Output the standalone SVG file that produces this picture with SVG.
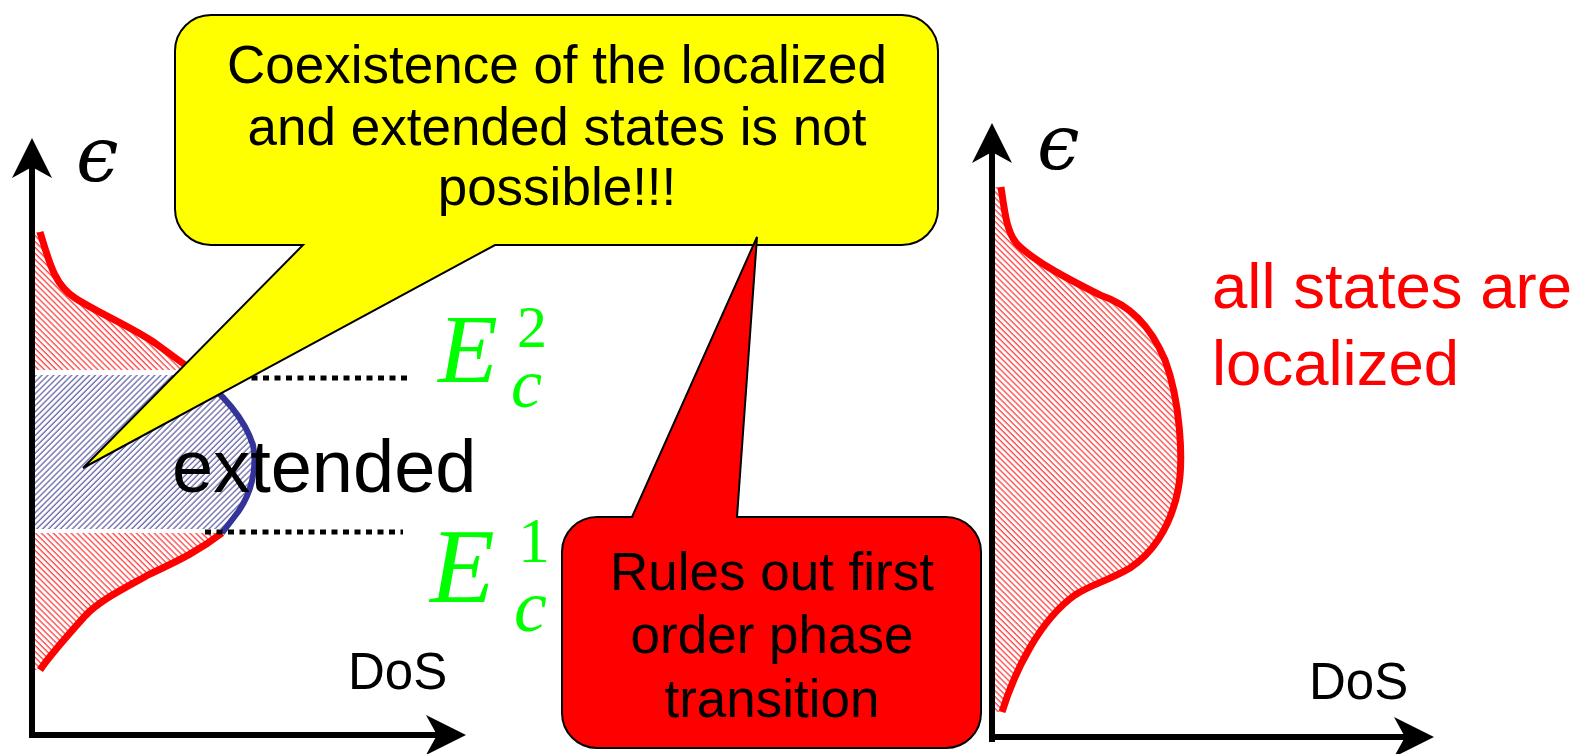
<svg xmlns="http://www.w3.org/2000/svg" width="1581" height="754" viewBox="0 0 1581 754">
<style>
.sans{font-family:"Liberation Sans",Arial,sans-serif}
.math{font-family:"Liberation Serif","Times New Roman",serif;fill:#00ff00}
.axis{stroke:#000;stroke-width:6;fill:none;marker-end:url(#arrow)}
.redc{stroke:#ff0000;stroke-width:7;fill:none;stroke-linejoin:round}
.bluec{stroke:#333399;stroke-width:6;fill:none;stroke-linejoin:round}
.dots{stroke:#000;stroke-width:5;stroke-dasharray:6 5.5;fill:none}
.callout{stroke:#000;stroke-width:2;stroke-linejoin:miter}
.eps{font-family:"DejaVu Serif",serif;font-style:italic;font-size:76px;fill:#000}
</style>
<defs>
<marker id="arrow" viewBox="0 0 40 40" refX="11" refY="20" markerWidth="40" markerHeight="40" markerUnits="userSpaceOnUse" orient="auto">
<path d="M0,0 L40,20 L0,40 L11,20 Z" fill="#000"/>
</marker>
<pattern id="hatchRed" patternUnits="userSpaceOnUse" width="4.2" height="4.2" patternTransform="rotate(-45)">
<rect width="4.2" height="4.2" fill="#fff"/>
<line x1="1" y1="-1" x2="1" y2="5.2" stroke="#ff4040" stroke-width="1.3"/>
</pattern>
<pattern id="hatchBlue" patternUnits="userSpaceOnUse" width="4.2" height="4.2" patternTransform="rotate(45)">
<rect width="4.2" height="4.2" fill="#fff"/>
<line x1="1" y1="-1" x2="1" y2="5.2" stroke="#6666a8" stroke-width="1.3"/>
</pattern>
<clipPath id="bandTop"><rect x="0" y="200" width="400" height="170"/></clipPath>
<clipPath id="bandMid"><rect x="0" y="375" width="400" height="154"/></clipPath>
<clipPath id="bandBot"><rect x="0" y="533" width="400" height="160"/></clipPath>
<path id="leftRegion" d="M40,232 C50,265 55,285 75,298 C100,314 130,326 155,343 L192,370 C225,395 245,420 253,445 C258,470 250,495 238,512 L222,533 C200,550 180,560 150,574 C125,588 100,600 85,616 C68,635 50,655 40,670 L30,670 L30,232 Z"/>
</defs>

<g id="plot-left">
<use href="#leftRegion" fill="url(#hatchRed)" clip-path="url(#bandTop)"/>
<use href="#leftRegion" fill="url(#hatchBlue)" clip-path="url(#bandMid)"/>
<use href="#leftRegion" fill="url(#hatchRed)" clip-path="url(#bandBot)"/>
<path class="redc" d="M40,232 C50,265 55,285 75,298 C100,314 130,326 155,343 L192,370"/>
<path class="bluec" d="M192,370 C225,395 245,420 253,445 C258,470 250,495 238,512 L222,533"/>
<path class="redc" d="M222,533 C200,550 180,560 150,574 C125,588 100,600 85,616 C68,635 50,655 40,670"/>
<line class="dots" x1="240" y1="378" x2="410" y2="378"/>
<line class="dots" x1="205" y1="532" x2="403" y2="532"/>
<text class="sans" x="172" y="492" font-size="74">extended</text>
<text class="sans" x="348" y="689" font-size="51">DoS</text>
<text class="eps" x="76" y="181">ϵ</text>
</g>

<g id="label-Ec2">
<text class="math"><tspan x="438" y="382" font-size="98" font-style="italic">E</tspan><tspan x="517" y="347" font-size="60">2</tspan><tspan x="511" y="407" font-size="70" font-style="italic">c</tspan></text>
</g>
<g id="label-Ec1">
<text class="math"><tspan x="430" y="602" font-size="106" font-style="italic">E</tspan><tspan x="518" y="562" font-size="64">1</tspan><tspan x="514" y="631" font-size="74" font-style="italic">c</tspan></text>
</g>

<g id="plot-right">
<path fill="url(#hatchRed)" d="M1001,187 C1005,215 1007,232 1017,244 C1035,262 1070,280 1100,295 C1130,305 1150,325 1165,360 C1180,400 1184,460 1178,490 C1170,530 1150,555 1130,568 C1110,580 1090,585 1075,595 C1040,620 1015,670 1002,712 L995,712 L995,187 Z"/>
<path class="redc" d="M1001,187 C1005,215 1007,232 1017,244 C1035,262 1070,280 1100,295 C1130,305 1150,325 1165,360 C1180,400 1184,460 1178,490 C1170,530 1150,555 1130,568 C1110,580 1090,585 1075,595 C1040,620 1015,670 1002,712"/>
<text class="sans" x="1309" y="699" font-size="51">DoS</text>
<text class="eps" x="1037" y="169">ϵ</text>
</g>

<g id="connectors">
<line class="axis" x1="32" y1="738" x2="32" y2="167"/>
<line class="axis" x1="29" y1="735" x2="437" y2="735"/>
<line class="axis" x1="992" y1="742" x2="992" y2="152"/>
<line class="axis" x1="989" y1="737" x2="1405" y2="737"/>
</g>

<g id="label-all-localized">
<text class="sans" font-size="63.5" fill="#ff0000"><tspan x="1212" y="308">all states are</tspan><tspan x="1212" y="385">localized</tspan></text>
</g>

<g id="callout-coexistence">
<path class="callout" fill="#ffff00" d="M211,15 H902 A36,36 0 0 1 938,51 V209 A36,36 0 0 1 902,245 H495 L83,468 L303,245 H211 A36,36 0 0 1 175,209 V51 A36,36 0 0 1 211,15 Z"/>
<text class="sans" font-size="53" text-anchor="middle" fill="#000"><tspan x="557" y="83">Coexistence of the localized</tspan><tspan x="557" y="145">and extended states is not</tspan><tspan x="557" y="205">possible!!!</tspan></text>
</g>

<g id="callout-rules">
<path class="callout" fill="#ff0000" d="M597,517 H632 L757,237 L737,517 H946 A35,35 0 0 1 981,552 V713 A35,35 0 0 1 946,748 H597 A35,35 0 0 1 562,713 V552 A35,35 0 0 1 597,517 Z"/>
<text class="sans" font-size="53" text-anchor="middle" fill="#000"><tspan x="772" y="590">Rules out first</tspan><tspan x="772" y="653">order phase</tspan><tspan x="772" y="717">transition</tspan></text>
</g>
</svg>
